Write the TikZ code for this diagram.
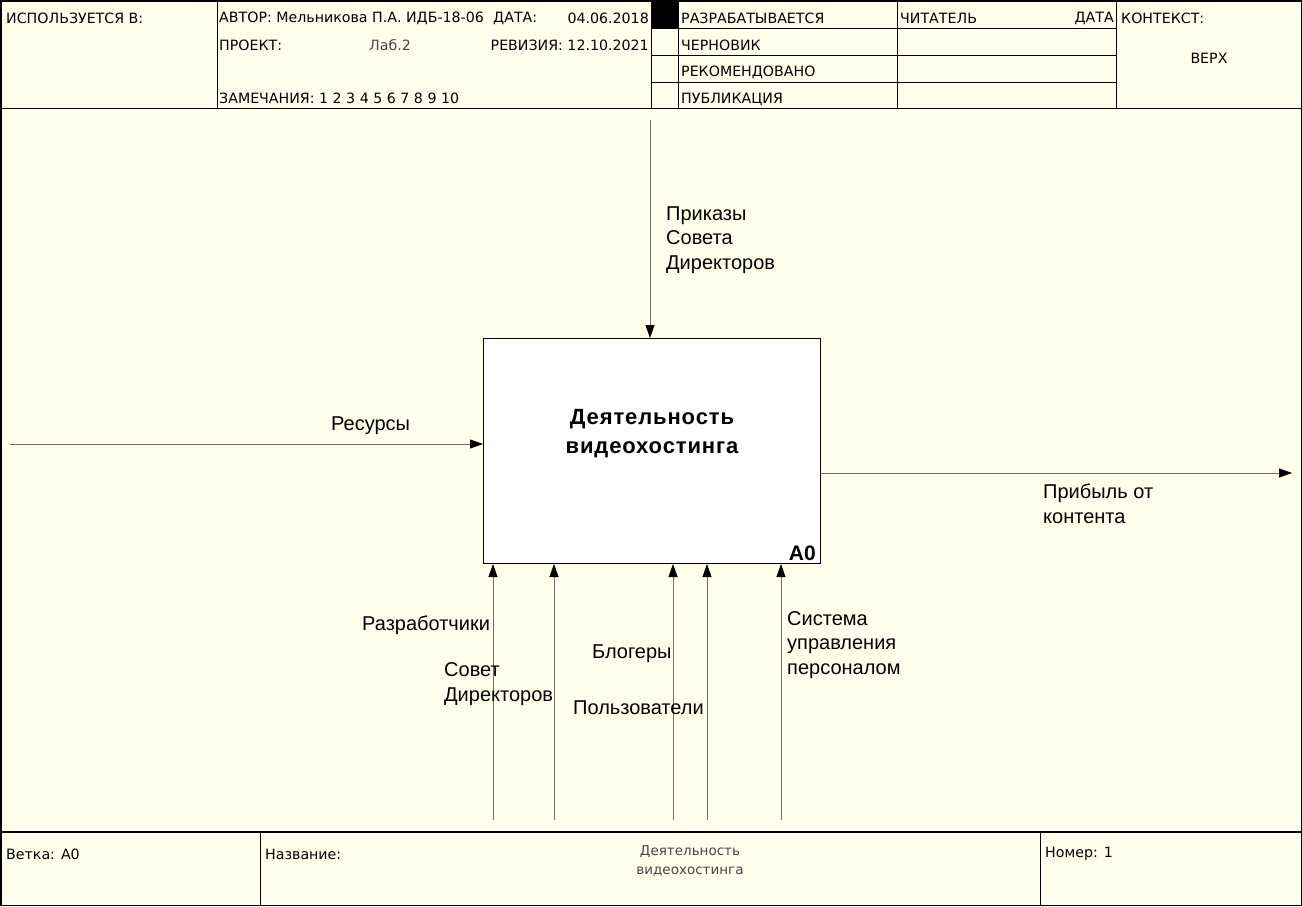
\documentclass[tikz,border=0pt]{standalone}
\usepackage{fontspec}
\setmainfont{Liberation Sans}
\newfontfamily\hdrfont{DejaVu Sans}
\usetikzlibrary{arrows.meta}
\definecolor{cream}{RGB}{255,255,236}
\definecolor{arr}{RGB}{110,110,110}
\definecolor{thin}{RGB}{70,70,70}
\begin{document}
\begin{tikzpicture}[x=1pt,y=-1pt,
  hdr/.style={anchor=west,inner sep=0pt,font=\hdrfont\fontsize{14.2}{16}\selectfont},
  hdre/.style={hdr,anchor=east},
  lbl/.style={anchor=base west,inner sep=0pt,align=left,font=\fontsize{20}{24.5}\selectfont},
  frame/.style={draw=black,line width=1pt},
  flow/.style={draw=arr,line width=0.8pt,-{Triangle[length=13pt,width=9pt,color=black]}},
  abox/.style={draw=black,line width=1pt,fill=white,anchor=north west,minimum width=337pt,minimum height=225pt,inner sep=0pt}]
\useasboundingbox (0,0) rectangle (1302,906);
\fill[cream] (0,0) rectangle (1302,906);
% frame
\draw[frame,line width=1.5pt] (0.75,0.75) rectangle (1301.25,905.25);
\draw[frame] (0,108) -- (1302,108);
\draw[frame] (217,0) -- (217,108);
\draw[frame] (651,0) -- (651,108);
\draw[frame] (678,0) -- (678,108);
\draw[frame] (897,0) -- (897,108);
\draw[frame] (1116,0) -- (1116,108);
\draw[frame] (651,28) -- (1116,28);
\draw[frame] (651,55) -- (1116,55);
\draw[frame] (651,82) -- (1116,82);
\fill[black] (651,0) rectangle (678,28);
\draw[frame,line width=1.5pt] (0,832) -- (1302,832);
\draw[frame] (260,832) -- (260,906);
\draw[frame] (1040,832) -- (1040,906);
% header texts
\node[hdr] (usedin) at (6,18) {ИСПОЛЬЗУЕТСЯ В:};
\node[hdr] (author) at (219,18) {АВТОР: Мельникова П.А. ИДБ-18-06};
\node[hdr] (datel) at (493,18) {ДАТА:};
\node[hdre] (datev) at (649,18) {04.06.2018};
\node[hdr] (proj) at (219,45) {ПРОЕКТ:};
\node[hdr,text=thin] (projv) at (369,45) {Лаб.2};
\node[hdre] (rev) at (649,45) {РЕВИЗИЯ: 12.10.2021};
\node[hdr] (notes) at (219,98) {ЗАМЕЧАНИЯ:\ 1 2 3 4 5 6 7 8 9 10};
\node[hdr] (st1) at (681,18) {РАЗРАБАТЫВАЕТСЯ};
\node[hdr] (st2) at (681,45) {ЧЕРНОВИК};
\node[hdr] (st3) at (681,72) {РЕКОМЕНДОВАНО};
\node[hdr] (st4) at (681,99) {ПУБЛИКАЦИЯ};
\node[hdr] (reader) at (900,18) {ЧИТАТЕЛЬ};
\node[hdre] (rdate) at (1114,18) {ДАТА};
\node[hdr] (ctx) at (1121,18) {КОНТЕКСТ:};
\node[hdr,anchor=center] (top) at (1209,58) {ВЕРХ};
% bottom texts
\node[hdr] (branch) at (6,854) {Ветка: А0};
\node[hdr] (name) at (265,854) {Название:};
\node[hdr,anchor=center,align=center,text=thin,font=\hdrfont\fontsize{13.5}{19}\selectfont] (namev) at (690,861) {Деятельность\\видеохостинга};
\node[hdr] (num) at (1045,854) {Номер: 1};
% activity box
\node[abox] (A0) at (483,338) {};
\node[align=center,inner sep=0pt,font=\bfseries\fontsize{22}{29}\selectfont\addfontfeature{LetterSpace=4}] (title) at (652,434) {Деятельность\\видеохостинга};
\node[anchor=south east,inner sep=0pt,font=\bfseries\fontsize{21}{21}\selectfont] (a0lbl) at (816,561) {A0};
% arrows
\coordinate (ctl) at (650,120);
\draw[flow] (ctl) -- (ctl |- A0.north);
\coordinate (inp) at (10,444);
\draw[flow] (inp) -- (inp -| A0.west);
\coordinate (outp) at (1292,473);
\draw[flow] (outp -| A0.east) -- (outp);
\coordinate (m1) at (493,820);
\coordinate (m2) at (554,820);
\coordinate (m3) at (673,820);
\coordinate (m4) at (707,820);
\coordinate (m5) at (781,820);
\foreach \m in {m1,m2,m3,m4,m5} \draw[flow] (\m) -- (\m |- A0.south);
% labels (base = baseline of the last line)
\node[lbl] (lctl) at (666,269) {Приказы\\Совета\\Директоров};
\node[lbl] (linp) at (331,430) {Ресурсы};
\node[lbl] (lout) at (1043,523) {Прибыль от\\контента};
\node[lbl] (lm1) at (362,630) {Разработчики};
\node[lbl] (lm2) at (444,701) {Совет\\Директоров};
\node[lbl] (lm3a) at (592,658) {Блогеры};
\node[lbl] (lm3b) at (573,714) {Пользователи};
\node[lbl] (lm5) at (787,674) {Система\\управления\\персоналом};
\end{tikzpicture}
\end{document}
